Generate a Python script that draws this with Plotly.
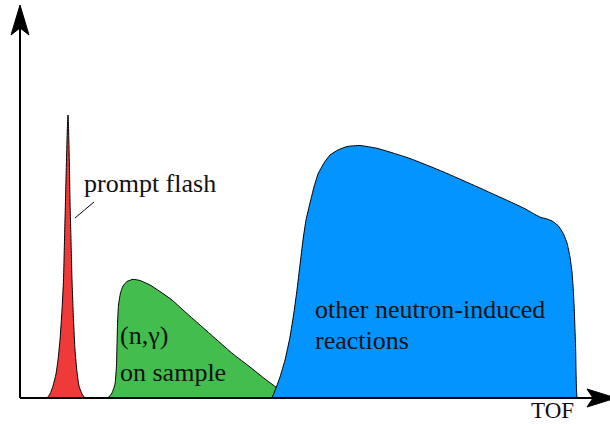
import plotly.graph_objects as go

# Sketch of a time-of-flight spectrum: counts vs TOF (arbitrary units)
flash_tof = [27, 30, 33, 36, 38, 40, 42, 43.5, 44.5, 45.5, 46.5, 47.3, 48,
             48.6, 49.3, 50, 51, 52, 53.5, 55, 57, 59, 62, 65]
flash_cnt = [0, 4, 12, 24, 38, 58, 88, 118, 158, 198, 238, 268, 283,
             268, 238, 198, 158, 118, 78, 48, 26, 12, 4, 0]

capture_tof = [88, 92, 95, 96.5, 97, 97.5, 98.5, 100.5, 103, 107, 113, 120, 130,
               140, 152, 163, 180, 197, 213, 230, 245, 257, 266, 268]
capture_cnt = [0, 5, 14, 33, 53, 73, 93, 105, 112, 116.5, 118.7, 117.5, 113,
               106.5, 98, 88, 73, 58, 44, 31, 19, 10, 2, 0]

other_tof = [252, 256, 260, 265, 270, 274, 277, 280, 283, 286, 290, 294, 298,
             304, 310, 318, 327, 340, 357, 373, 390, 423, 457, 490, 505, 515,
             521, 526, 532, 538, 543, 547, 550, 552, 553.3, 554.3, 555, 555.7,
             556, 556.5, 557]
other_cnt = [0, 10, 21, 38, 61, 86, 108, 133, 158, 178, 195, 211, 224,
             235, 243, 248, 251.5, 252.5, 249.7, 245, 239.5, 226.3, 211.3,
             196.3, 189.3, 183.5, 180.5, 179.3, 177, 172.5, 165, 155, 141, 126,
             108, 88, 68, 48, 28, 8, 0]

labels = {
    "flash": "prompt flash",
    "capture": ["(n,γ)", "on sample"],
    "other": ["other neutron-induced", "reactions"],
    "xlabel": "TOF",
}

FONT = dict(family="Liberation Serif", size=26, color="#111111")

fig = go.Figure()

def region(x, y, color):
    fig.add_trace(go.Scatter(
        x=x, y=y, mode="lines", fill="toself", fillcolor=color,
        line=dict(color="black", width=1, shape="spline", smoothing=0.4),
        hoverinfo="skip", showlegend=False,
    ))

region(flash_tof, flash_cnt, "#F03A3A")
region(capture_tof, capture_cnt, "#43BD4D")
region(other_tof, other_cnt, "#0394FF")

# axes with stealth arrowheads
shapes = [
    dict(type="line", x0=0, y0=0, x1=0, y1=372, line=dict(color="black", width=2)),
    dict(type="line", x0=0, y0=0, x1=575, y1=0, line=dict(color="black", width=2)),
    dict(type="path", path="M 0 393 L -9 363 L 0 370 L 9 363 Z",
         fillcolor="black", line=dict(color="black", width=1)),
    dict(type="path", path="M 596 0 L 567 9 L 573 0 L 567 -9 Z",
         fillcolor="black", line=dict(color="black", width=1)),
    # leader line for the flash label
    dict(type="line", x0=55, y0=180, x1=74, y1=196, line=dict(color="black", width=1)),
]

ann = [
    dict(x=62, y=215, text=labels["flash"], xanchor="left", yanchor="middle", font=FONT),
    dict(x=98, y=63, text=labels["capture"][0], xanchor="left", yanchor="middle", font=FONT),
    dict(x=98, y=26, text=labels["capture"][1], xanchor="left", yanchor="middle", font=FONT),
    dict(x=293, y=89, text=labels["other"][0], xanchor="left", yanchor="middle", font=FONT),
    dict(x=293, y=58, text=labels["other"][1], xanchor="left", yanchor="middle", font=FONT),
    dict(x=532, y=-12, text=labels["xlabel"], xanchor="center", yanchor="middle",
         font=dict(FONT, size=23)),
]
for a in ann:
    a.update(showarrow=False, xref="x", yref="y")

fig.update_layout(
    width=610, height=424,
    margin=dict(l=0, r=0, t=0, b=0),
    paper_bgcolor="white", plot_bgcolor="white",
    xaxis=dict(range=[-20, 590], visible=False, fixedrange=True),
    yaxis=dict(range=[-26, 398], visible=False, fixedrange=True),
    shapes=shapes, annotations=ann,
)

fig.write_html("out.html")
